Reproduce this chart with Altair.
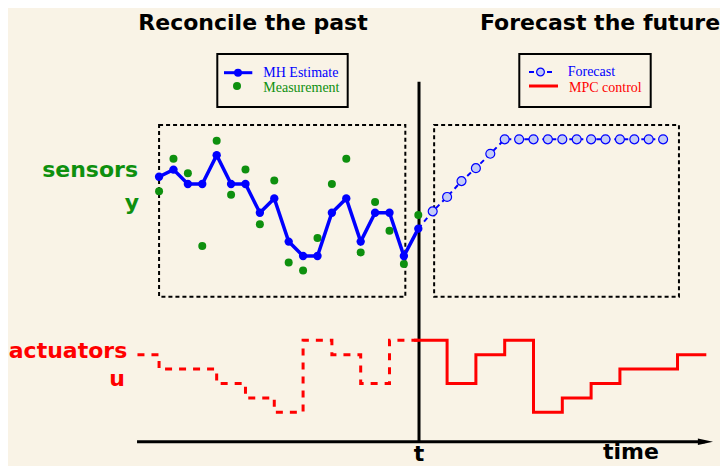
import altair as alt
import pandas as pd

# ---- data (levels) ----
PAST_K = list(range(-18, 1))
EST = [5.5, 6.0, 5.0, 5.0, 7.0, 5.0, 5.0, 3.0, 4.0, 1.0, 0.0, 0.0, 3.0, 4.0, 1.0, 3.0, 3.0, 0.0, 1.9]
MEAS = [4.5, 6.75, 5.75, 0.7, 8.0, 4.25, 6.0, 2.2, 5.25, -0.45, -1.0, 1.25, 5.0, 6.75, 0.25, 3.75, 1.75, -0.55, 2.85]
FC_K = list(range(1, 18))
FCST = [3.1, 4.1, 5.2, 6.1, 7.1] + [8.1] * 12

U_PAST_K = [-19.5, -18, -14, -12, -10, -8, -6, -4, -2, 0]
U_PAST = [4, 3, 2, 1, 0, 5, 4, 2, 5, 5]
U_FUT_K = [-0.3, 2, 4, 6, 8, 10, 12, 14, 18, 20]
U_FUT = [5, 2, 4, 5, 0, 1, 2, 3, 4, 4]
U_OFFSET = -10.85

BOXES = {"k": [-18.0, 1.1], "k2": [-0.9, 18.1], "v": [-2.83, -2.83], "v2": [9.1, 9.1]}

BG = "#f9f3e6"
BLUE = "#0000ff"
GREEN = "#0e900e"
RED = "#ff0000"

xs = alt.Scale(domain=[-28.49, 20.95], nice=False, zero=False)
ys = alt.Scale(domain=[-14.58, 17.22], nice=False, zero=False)


def X(f="k"):
    return alt.X(f"{f}:Q", scale=xs, axis=None)


def Y(f="v"):
    return alt.Y(f"{f}:Q", scale=ys, axis=None)


est_df = pd.DataFrame({"k": PAST_K, "v": EST})
meas_df = pd.DataFrame({"k": PAST_K, "v": MEAS})
fc_df = pd.DataFrame({"k": FC_K, "v": FCST})
fc_line_df = pd.concat([est_df.tail(1), fc_df], ignore_index=True)
up_df = pd.DataFrame({"k": U_PAST_K, "v": [u + U_OFFSET for u in U_PAST]})
uf_df = pd.DataFrame({"k": U_FUT_K, "v": [u + U_OFFSET for u in U_FUT]})
box_df = pd.DataFrame(BOXES)
axes_df = pd.DataFrame({"k": [0.05, -19.53], "k2": [0.05, 19.9], "v": [12.1, -12.9], "v2": [-12.9, -12.9]})
arrow_df = pd.DataFrame({"k": [19.94], "v": [-12.9]})

layers = []

layers.append(
    alt.Chart(box_df).mark_rect(filled=False, stroke="black", strokeWidth=2, strokeDash=[4, 3])
    .encode(x=X(), x2="k2:Q", y=Y(), y2="v2:Q")
)
layers.append(
    alt.Chart(axes_df).mark_rule(color="black", strokeWidth=3)
    .encode(x=X(), x2="k2:Q", y=Y(), y2="v2:Q")
)
layers.append(
    alt.Chart(arrow_df).mark_point(shape="M-1,-0.42L1,0L-1,0.42Z", filled=True, color="black",
                                   size=230, opacity=1)
    .encode(x=X(), y=Y())
)
layers.append(
    alt.Chart(up_df).mark_line(interpolate="step-after", color=RED, strokeWidth=3, strokeDash=[7, 7])
    .encode(x=X(), y=Y())
)
layers.append(
    alt.Chart(uf_df).mark_line(interpolate="step-after", color=RED, strokeWidth=3)
    .encode(x=X(), y=Y())
)
layers.append(
    alt.Chart(meas_df).mark_circle(color=GREEN, size=64, opacity=1)
    .encode(x=X(), y=Y())
)
layers.append(
    alt.Chart(est_df).mark_line(color=BLUE, strokeWidth=3.5)
    .encode(x=X(), y=Y())
)
layers.append(
    alt.Chart(est_df).mark_circle(color=BLUE, size=70, opacity=1)
    .encode(x=X(), y=Y())
)
layers.append(
    alt.Chart(fc_line_df).mark_line(color=BLUE, strokeWidth=2, strokeDash=[5, 4])
    .encode(x=X(), y=Y())
)
layers.append(
    alt.Chart(fc_df).mark_point(shape="circle", filled=True, fill="#c3cbf7", stroke=BLUE,
                                strokeWidth=1.2, size=80, opacity=1)
    .encode(x=X(), y=Y())
)

one = alt.Data(values=[{}])


def text(t, x, y, color="black", size=22, font="DejaVu Sans", weight="bold", align="center"):
    return alt.Chart(one).mark_text(text=t, color=color, fontSize=size, font=font,
                                    fontWeight=weight, align=align, baseline="alphabetic").encode(
        x=alt.value(x), y=alt.value(y))


def rect(x, x2, y, y2):
    return alt.Chart(one).mark_rect(filled=False, stroke="black", strokeWidth=2).encode(
        x=alt.value(x), x2=alt.value(x2), y=alt.value(y), y2=alt.value(y2))


def seg(x, x2, y, color, width, dash=None):
    kw = {"strokeDash": dash} if dash else {}
    return alt.Chart(one).mark_rule(color=color, strokeWidth=width, **kw).encode(
        x=alt.value(x), x2=alt.value(x2), y=alt.value(y), y2=alt.value(y))


def dot(x, y, fill, stroke, size, sw=0):
    return alt.Chart(one).mark_point(shape="circle", filled=True, fill=fill, stroke=stroke,
                                     strokeWidth=sw, size=size, opacity=1).encode(
        x=alt.value(x), y=alt.value(y))


# titles and labels
layers += [
    text("Reconcile the past", 245, 21.5, size=22),
    text("Forecast the future", 592, 21.5, size=22),
    text("sensors", 130, 168.7, GREEN, align="right"),
    text("y", 124, 202, GREEN),
    text("actuators", 60, 350.3, RED),
    text("u", 109, 378, RED),
    text("t", 411, 453),
    text("time", 623, 451),
]

# legends
SERIF = "Liberation Serif"
layers += [
    rect(209.3, 339.7, 46, 99),
    seg(216, 244.3, 64.7, BLUE, 3),
    dot(230, 64.7, BLUE, BLUE, 64),
    dot(229, 78, GREEN, GREEN, 64),
    text("MH Estimate", 255.3, 68.7, BLUE, 14, SERIF, "normal", "left"),
    text("Measurement", 255.3, 83.7, GREEN, 14, SERIF, "normal", "left"),
    rect(511.3, 642.7, 46, 99),
    seg(521, 544, 64, BLUE, 2, [5, 4]),
    dot(532.5, 64, "#c3cbf7", BLUE, 60, 1.2),
    seg(521, 550, 78, RED, 3),
    text("Forecast", 559.7, 68, BLUE, 14, SERIF, "normal", "left"),
    text("MPC control", 561, 83.5, RED, 14, SERIF, "normal", "left"),
]

chart = alt.layer(*layers).properties(
    width=712, height=458, background=BG, padding=0,
    autosize=alt.AutoSizeParams(type="none"),
).configure_view(stroke=None)

chart.save("out.html", embed_options={"renderer": "svg", "actions": False})
